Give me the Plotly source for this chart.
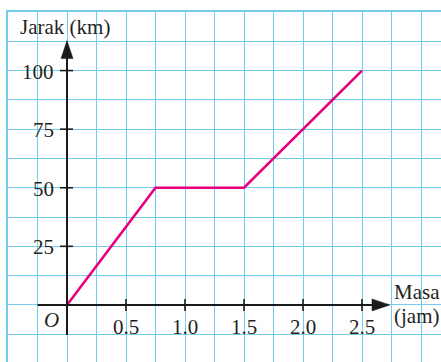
import plotly.graph_objects as go

# Journey: time (hours) vs distance (km)
masa = [0, 0.75, 1.5, 2.5]
jarak = [0, 50, 50, 100]

x_ticks = [0.5, 1.0, 1.5, 2.0, 2.5]
x_tick_labels = ["0.5", "1.0", "1.5", "2.0", "2.5"]
y_ticks = [25, 50, 75, 100]
y_tick_labels = ["25", "50", "75", "100"]

GRID = "#74cdf0"
AXIS = "#1a1a1a"
LINE = "#e6007e"
FONT = dict(family="Liberation Serif, Times New Roman, serif", size=21, color="#231f20")

fig = go.Figure()
fig.add_trace(go.Scatter(x=masa, y=jarak, mode="lines",
                         line=dict(color=LINE, width=2.6), hoverinfo="skip"))

shapes = []
# axis lines
shapes.append(dict(type="line", x0=-0.25, x1=2.7, y0=0, y1=0,
                   line=dict(color=AXIS, width=2), layer="above"))
shapes.append(dict(type="line", x0=0, x1=0, y0=-12.8, y1=108,
                   line=dict(color=AXIS, width=2), layer="above"))
# arrowheads
shapes.append(dict(type="path", xsizemode="pixel", ysizemode="pixel",
                   xanchor=2.737, yanchor=0,
                   path="M0,0 L-18,6 L-18,-6 Z",
                   fillcolor=AXIS, line=dict(color=AXIS, width=0.5), layer="above"))
shapes.append(dict(type="path", xsizemode="pixel", ysizemode="pixel",
                   xanchor=0, yanchor=112.8,
                   path="M0,0 L-6,-18 L6,-18 Z",
                   fillcolor=AXIS, line=dict(color=AXIS, width=0.5), layer="above"))
# tick marks
for t in x_ticks:
    shapes.append(dict(type="line", xref="x", yref="y", ysizemode="pixel", yanchor=0,
                       x0=t, x1=t, y0=-6, y1=6,
                       line=dict(color=AXIS, width=1.6), layer="above"))
for t in y_ticks:
    shapes.append(dict(type="line", xref="x", yref="y", xsizemode="pixel", xanchor=0,
                       x0=-7, x1=6, y0=t, y1=t,
                       line=dict(color=AXIS, width=1.6), layer="above"))

annotations = []
for t, lab in zip(x_ticks, x_tick_labels):
    annotations.append(dict(x=t, y=0, text=lab, showarrow=False, xanchor="center",
                            yanchor="middle", yshift=-22, font=FONT))
for t, lab in zip(y_ticks, y_tick_labels):
    annotations.append(dict(x=0, y=t, text=lab, showarrow=False, xanchor="right",
                            yanchor="middle", xshift=-11, yshift=-1, font=FONT))
annotations.append(dict(x=0, y=0, text="<i>O</i>", showarrow=False, xanchor="center",
                        yanchor="middle", xshift=-16, yshift=-15, font=FONT))
annotations.append(dict(x=0, y=100, text="Jarak (km)", showarrow=False, xanchor="left",
                        yanchor="middle", xshift=-49, yshift=44, font=FONT))
annotations.append(dict(x=2.737, y=0, text="Masa", showarrow=False, xanchor="left",
                        yanchor="middle", xshift=2, yshift=13, font=FONT))
annotations.append(dict(x=2.737, y=0, text="(jam)", showarrow=False, xanchor="left",
                        yanchor="middle", xshift=2, yshift=-11, font=FONT))

fig.update_layout(
    width=441, height=362,
    margin=dict(l=8, r=0, t=12, b=0),
    paper_bgcolor="white", plot_bgcolor="white",
    showlegend=False,
    shapes=shapes, annotations=annotations,
    xaxis=dict(range=[-0.5, 3.1695], tick0=0, dtick=0.25, showgrid=True,
               gridcolor=GRID, gridwidth=1.4, zeroline=False, showticklabels=False,
               ticks="", side="top", showline=True, linecolor=GRID, linewidth=2,
               fixedrange=True),
    yaxis=dict(range=[-24.36, 125], tick0=0, dtick=12.5, showgrid=True,
               gridcolor=GRID, gridwidth=1.4, zeroline=False, showticklabels=False,
               ticks="", showline=True, linecolor=GRID, linewidth=1.5,
               fixedrange=True),
)

fig.write_html("out.html")
